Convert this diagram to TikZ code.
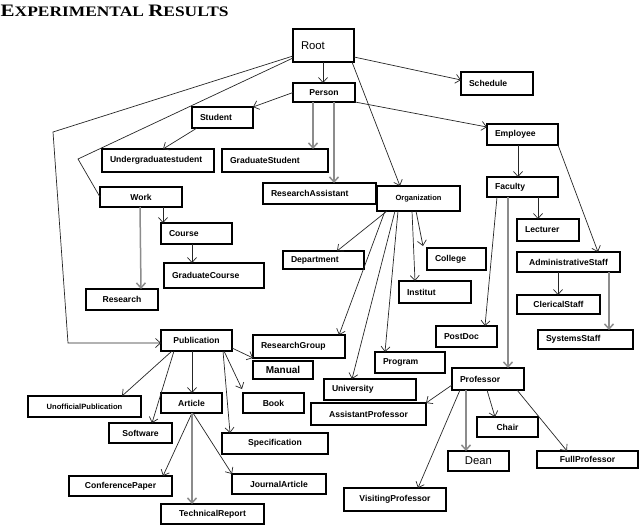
\documentclass[tikz,border=0pt]{standalone}
\usepackage{fontspec}
\usepackage{graphicx}
\setmainfont{Liberation Serif}
\newfontfamily\boxfont{Liberation Sans}
\usetikzlibrary{arrows.meta}
\tikzset{
 box/.style={draw=black, line width=1.1pt, inner sep=0pt, outer sep=0pt, font=\boxfont\bfseries\fontsize{8.6}{10}\selectfont},
 edge/.style={draw=black!85, line width=0.7pt, -{Straight Barb[length=5pt,width=9pt]}},
 gedge/.style={draw=black!45, line width=1.5pt, -{Straight Barb[length=5pt,width=9pt]}},
 plain/.style={draw=black!85, line width=0.7pt},
 rfont/.style={font=\boxfont\fontsize{11.3}{12}\selectfont},
}
% centred text box: [opts]{name}{x1}{y1}{x2}{y2}{text}
\newcommand\bxc[7][]{\pgfmathsetmacro\bxW{#5-#3}\pgfmathsetmacro\bxH{#6-#4}%
 \node[box,anchor=north west,minimum width=\bxW pt,minimum height=\bxH pt,#1] (#2) at (#3,#4) {#7};}
% left aligned text box
\newcommand\bxl[7][]{\pgfmathsetmacro\bxW{#5-#3}\pgfmathsetmacro\bxH{#6-#4}\pgfmathsetmacro\bxT{#5-#3-16}%
 \node[box,anchor=north west,minimum width=\bxW pt,minimum height=\bxH pt,#1] (#2) at (#3,#4) {\makebox[\bxT pt][l]{#7}};}
\begin{document}
\begin{tikzpicture}[x=1pt,y=-1pt]
\useasboundingbox (0,0) rectangle (640,525);
\node[anchor=base west, inner sep=0pt] (title) at (0.5,16) {\scalebox{1.2}[1]{\bfseries\fontsize{17.5}{18}\selectfont E\fontsize{14.5}{15}\selectfont XPERIMENTAL \fontsize{17.5}{18}\selectfont R\fontsize{14.5}{15}\selectfont ESULTS}};

\bxl[rfont]{root}{293}{29}{354}{62}{Root}
\bxc{person}{293}{83}{355}{102}{Person}
\bxl{schedule}{461}{72}{533}{95}{Schedule}
\bxl{student}{192}{107}{253}{128}{Student}
\bxl{employee}{487}{124}{558}{145}{Employee}
\bxl{ugs}{102}{149}{214}{172}{Undergraduatestudent}
\bxl{gs}{222}{149}{328}{172}{GraduateStudent}
\bxc{work}{100}{187}{182}{207}{Work}
\bxl{ra}{263}{183}{376}{204}{ResearchAssistant}
\bxc[font=\boxfont\bfseries\fontsize{7.5}{9}\selectfont]{org}{377}{186}{460}{211}{Organization}
\bxl{faculty}{487}{177}{558}{197}{Faculty}
\bxl{course}{161}{223}{232}{244}{Course}
\bxl{lecturer}{517}{219}{579}{241}{Lecturer}
\bxl{dept}{283}{251}{364}{269}{Department}
\bxl{college}{427}{248}{486}{270}{College}
\bxc{admin}{517}{252}{620}{272}{AdministrativeStaff}
\bxl{institut}{399}{281}{471}{303}{Institut}
\bxl{gcourse}{164}{263}{264}{288}{GraduateCourse}
\bxc{research}{86}{289}{158}{310}{Research}
\bxc{clerical}{517}{295}{600}{314}{ClericalStaff}
\bxl{postdoc}{436}{326}{497}{347}{PostDoc}
\bxl{systems}{538}{330}{633}{349}{SystemsStaff}
\bxl{rg}{253}{335}{345}{358}{ResearchGroup}
\bxc[font=\boxfont\bfseries\fontsize{10}{11}\selectfont]{manual}{253}{361}{313}{379}{Manual}
\bxl{program}{375}{352}{445}{373}{Program}
\bxl{university}{324}{379}{416}{400}{University}
\bxl{professor}{452}{368}{524}{390}{Professor}
\bxc{pub}{161}{330}{232}{351}{Publication}
\bxc[font=\boxfont\bfseries\fontsize{7.6}{9}\selectfont]{unofficial}{28}{396}{141}{417}{UnofficialPublication}
\bxc{article}{161}{393}{222}{413}{Article}
\bxc{book}{243}{393}{304}{413}{Book}
\bxc{software}{109}{423}{172}{443}{Software}
\bxc{spec}{222}{433}{328}{454}{Specification}
\bxc{assistprof}{311}{403}{426}{425}{AssistantProfessor}
\bxc{chair}{477}{417}{538}{437}{Chair}
\bxc[rfont]{dean}{448}{451}{509}{471}{Dean}
\bxc{fullprof}{537}{451}{638}{468}{FullProfessor}
\bxc{conf}{69}{476}{172}{496}{ConferencePaper}
\bxc{journal}{232}{474}{326}{494}{JournalArticle}
\bxc{techreport}{161}{504}{264}{524}{TechnicalReport}
\bxc{visiting}{344}{488}{446}{511}{VisitingProfessor}

% connectors
\draw[edge] ([xshift=30pt]root.south west) -- ([xshift=30pt]person.north west);
\draw[edge] ([yshift=5pt]root.south east) -- ([yshift=-8pt]schedule.north west);
\draw[edge] ([xshift=-2pt]root.south east) -- ([xshift=23pt]org.north west);
\coordinate (b1) at (53,132);
\coordinate (b2) at (68,343);
\draw[edge] ([yshift=6pt]root.south west) -- (b1) -- (b2) -- (b2 -| pub.west);
\coordinate (b3) at (78,159);
\draw[plain] ([yshift=4pt]root.south west) -- (b3) -- (work.west);
\draw[edge] (person.west) -- (student.north east);
\draw[edge] (person.south east) -- ([yshift=-3pt]employee.north west);
\draw[gedge] ([xshift=20pt]person.south west) -- ([xshift=91pt]gs.north west);
\draw[gedge] ([xshift=41pt]person.south west) -- ([xshift=71pt]ra.north west);
\draw[edge] ([xshift=5pt]student.south west) -- ([xshift=61pt]ugs.north west);
\draw[edge] ([xshift=31pt]employee.south west) -- ([xshift=31pt]faculty.north west);
\draw[edge] (employee.south east) -- ([xshift=81pt]admin.north west);
\draw[edge] ([xshift=51pt]faculty.south west) -- ([xshift=21pt]lecturer.north west);
\draw[edge] ([xshift=10pt]faculty.south west) -- ([xshift=49pt]postdoc.north west);
\draw[gedge] ([xshift=21pt]faculty.south west) -- ([xshift=56pt]professor.north west);
\draw[edge] ([xshift=41pt]admin.south west) -- ([xshift=41pt]clerical.north west);
\draw[gedge] ([xshift=92pt]admin.south west) -- ([xshift=71pt]systems.north west);
\draw[edge] ([xshift=63pt]work.south west) -- ([xshift=2pt]course.north west);
\draw[gedge] ([xshift=40pt]work.south west) -- ([xshift=55pt]research.north west);
\draw[edge] ([xshift=31pt]course.south west) -- ([xshift=28pt]gcourse.north west);
\draw[edge] ([xshift=10pt]org.south west) -- ([xshift=54pt]dept.north west);
\draw[edge] ([xshift=8pt]org.south west) -- ([xshift=86pt]rg.north west);
\draw[edge] ([xshift=18pt]org.south west) -- ([xshift=28pt]university.north west);
\draw[edge] ([xshift=21pt]org.south west) -- ([xshift=10pt]program.north west);
\draw[edge] ([xshift=35pt]org.south west) -- ([xshift=16pt]institut.north west);
\draw[edge] ([xshift=39pt]org.south west) -- ([xshift=-4pt,yshift=2pt]college.north west);
\draw[edge] ([xshift=11pt]pub.south west) -- ([xshift=94pt]unofficial.north west);
\draw[edge] ([xshift=13pt]pub.south west) -- ([xshift=43pt]software.north west);
\draw[edge] ([xshift=31pt]pub.south west) -- ([xshift=31pt]article.north west);
\draw[edge] ([xshift=62pt]pub.south west) -- ([xshift=8pt]spec.north west);
\draw[edge] ([xshift=63pt]pub.south west) -- ([xshift=-1pt,yshift=4pt]book.north west);
\draw[edge] ([yshift=3pt]pub.south east) -- (rg.south west);
\draw[edge] ([xshift=31pt]article.south west) -- ([xshift=94pt]conf.north west);
\draw[gedge] ([xshift=31pt]article.south west) -- ([xshift=31pt]techreport.north west);
\draw[edge] ([xshift=32pt]article.south west) -- (journal.north west);
\draw[edge] ([yshift=5pt]professor.south west) -- (assistprof.north east);
\draw[edge] ([xshift=8pt]professor.south west) -- ([xshift=74pt]visiting.north west);
\draw[gedge] ([xshift=14pt]professor.south west) -- ([xshift=18pt]dean.north west);
\draw[edge] ([xshift=35pt]professor.south west) -- ([xshift=18pt]chair.north west);
\draw[edge] ([xshift=65pt]professor.south west) -- ([xshift=30pt]fullprof.north west);
\end{tikzpicture}
\end{document}
